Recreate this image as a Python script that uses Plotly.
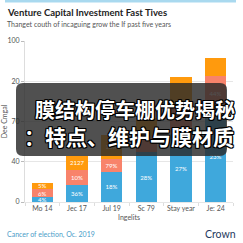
import plotly.graph_objects as go

categories = ["Mo 14", "Jec 17", "Jul 19", "Sc 79", "Stay year", "Je: 24"]
blue_vals = [3, 10.5, 18.8, 31, 42, 57]
salmon_vals = [5, 9.5, 8, 10, 18, 21]
orange_vals = [4, 8.6, 15, 11, 17.6, 11.5]
blue_text = ["4%", "36%", "18%", "28%", "27%", "23%"]
salmon_text = ["6%", "10%", "79%", "", "", "44%"]
orange_text = ["5%", "2127", "13%", "", "", ""]
y_tickvals = [0, 25, 50, 75, 100]
y_ticktext = ["0", "40", "70", "20", "100"]

W, H = 243, 243
L, R, T, B = 25, 10, 41, 41
pw, ph = W - L - R, H - T - B


def px(x):
    return (x - L) / pw


def py(y):
    return (H - B - y) / ph


fig = go.Figure()
for vals, txt, col in [(blue_vals, blue_text, "#3fa8dc"),
                       (salmon_vals, salmon_text, "#f8836b"),
                       (orange_vals, orange_text, "#ff9a0d")]:
    fig.add_trace(go.Bar(x=categories, y=vals, text=txt, marker_color=col,
                         marker_line_width=0, textposition="inside",
                         insidetextanchor="middle",
                         textfont=dict(color="white", size=7, family="Lato"),
                         hoverinfo="skip"))

fig.update_layout(
    barmode="stack", bargap=0.38, width=W, height=H,
    margin=dict(l=L, r=R, t=T, b=B, autoexpand=False),
    paper_bgcolor="white", plot_bgcolor="white", showlegend=False,
    font=dict(family="Lato", color="#555"),
    uniformtext=dict(minsize=5, mode="show"),
)
fig.update_yaxes(range=[0, 100], tickvals=y_tickvals, ticktext=y_ticktext,
                 showgrid=True, gridcolor="#e6e6e6", gridwidth=1,
                 showline=True, linecolor="#dddddd", ticks="outside",
                 ticklen=3, tickcolor="#bbbbbb", zeroline=False,
                 tickfont=dict(size=7, color="#555"),
                 title=dict(text="Dee Cmgal", font=dict(size=7, color="#555"),
                            standoff=2))
fig.update_xaxes(tickfont=dict(size=7, color="#555"), ticks="outside",
                 tickangle=0, automargin=False,
                 tickson="boundaries", ticklen=3, tickcolor="#dddddd",
                 showline=True, linecolor="#e6e6e6",
                 title=dict(text="Ingelits", font=dict(size=7, color="#555"),
                            standoff=3))

# top strip
fig.add_shape(type="rect", xref="paper", yref="paper", x0=px(5), x1=px(236),
              y0=py(2.5), y1=py(0), fillcolor="#a9d9ef", line_width=0)

# overlay rounded box
x0, x1, y0, y1 = px(16), px(227), py(156), py(83)
rx, ry = 7 / pw, 7 / ph
path = (f"M {x0+rx},{y1} L {x1-rx},{y1} Q {x1},{y1} {x1},{y1-ry} "
        f"L {x1},{y0+ry} Q {x1},{y0} {x1-rx},{y0} L {x0+rx},{y0} "
        f"Q {x0},{y0} {x0},{y0+ry} L {x0},{y1-ry} Q {x0},{y1} {x0+rx},{y1} Z")
fig.add_shape(type="path", path=path, xref="paper", yref="paper",
              fillcolor="rgba(42,42,42,0.82)", line_width=0, layer="above")

shadow = ("1px 1px 0 #000, -1px -1px 0 #000, 1px -1px 0 #000, -1px 1px 0 #000, "
          "0 1px 0 #000, 0 -1px 0 #000, 1px 0 0 #000, -1px 0 0 #000")
fig.add_annotation(text="<b>膜结构停车棚优势揭秘</b>", xref="paper", yref="paper",
                   x=px(237), y=py(109), xanchor="right", yanchor="middle",
                   showarrow=False,
                   font=dict(size=20, color="white", family="Noto Sans CJK SC",
                             shadow=shadow))
fig.add_annotation(text="<b>：特点、维护与膜材质</b>", xref="paper", yref="paper",
                   x=px(236), y=py(136), xanchor="right", yanchor="middle",
                   showarrow=False,
                   font=dict(size=21, color="white", family="Noto Sans CJK SC",
                             shadow=shadow))

# titles and footer
fig.add_annotation(text="<b>Venture Capital Investment Fast Tives</b>",
                   xref="paper", yref="paper", x=px(5), y=py(13),
                   xanchor="left", yanchor="middle", showarrow=False,
                   font=dict(size=9.5, color="#222", family="Lato"))
fig.add_annotation(text="Thanget couth of incaguing grow the If past five years",
                   xref="paper", yref="paper", x=px(5), y=py(24),
                   xanchor="left", yanchor="middle", showarrow=False,
                   font=dict(size=7, color="#555", family="Lato"))
fig.add_annotation(text="Cancer of election, Oc. 2019",
                   xref="paper", yref="paper", x=px(5), y=py(234),
                   xanchor="left", yanchor="middle", showarrow=False,
                   font=dict(size=7, color="#4a9cc8", family="Lato"))
fig.add_annotation(text="Crown",
                   xref="paper", yref="paper", x=px(238), y=py(234),
                   xanchor="right", yanchor="middle", showarrow=False,
                   font=dict(size=10.5, color="#1f3a60", family="Lato"))

fig.write_html("out.html")
